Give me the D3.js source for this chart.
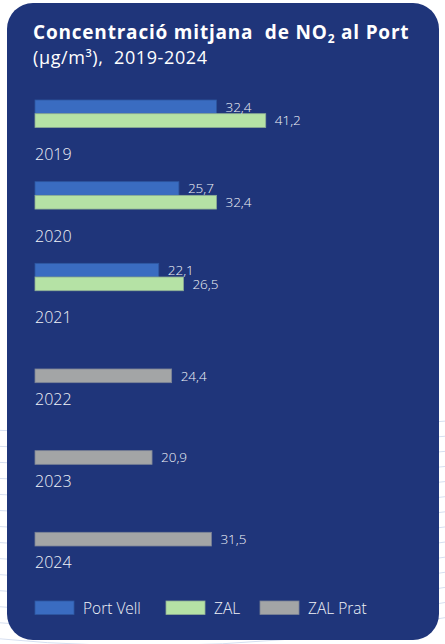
<!DOCTYPE html>
<html>
<head>
<meta charset="utf-8">
<script src="https://cdn.jsdelivr.net/npm/d3@7"></script>
<style>
  html, body { margin: 0; padding: 0; background: #ffffff; }
  svg { display: block; font-family: "Open Sans", sans-serif; }
</style>
</head>
<body>
<div id="chart"></div>
<script>
// data
const years = ["2019", "2020", "2021", "2022", "2023", "2024"];
const seriesNames = ["Port Vell", "ZAL", "ZAL Prat"];
const portVell = [32.4, 25.7, 22.1, null, null, null];
const zal = [41.2, 32.4, 26.5, null, null, null];
const zalPrat = [null, null, null, 24.4, 20.9, 31.5];

const colors = { "Port Vell": "#3a6cc1", "ZAL": "#b5e2a5", "ZAL Prat": "#a3a5a6" };
const strokes = { "Port Vell": "#2e57a0", "ZAL": "#8fae95", "ZAL Prat": "#7b8396" };
const textColor = "#f1f3f8";

const width = 445, height = 644;

// flatten into rows year / series / value
const rows = [];
years.forEach((y, i) => {
    [portVell, zal, zalPrat].forEach((arr, j) => {
        if (arr[i] != null) rows.push({ year: y, series: seriesNames[j], value: arr[i] });
    });
});

const svg = d3.select("#chart").append("svg")
    .attr("width", width)
    .attr("height", height);

// faint background lines outside the card
const bgLines = d3.range(0, 14);
svg.append("g").selectAll("path")
    .data(bgLines)
    .enter().append("path")
    .attr("d", d => `M -10 ${430 + d * 16} Q 220 ${440 + d * 17} 460 ${420 + d * 15}`)
    .attr("fill", "none")
    .attr("stroke", "#d6dff0")
    .attr("stroke-width", 1);

// the card
svg.append("rect")
    .attr("x", 7).attr("y", 3)
    .attr("width", 432).attr("height", 637)
    .attr("rx", 26).attr("ry", 26)
    .attr("fill", "#1f357a");

// title
const title = svg.append("text")
    .attr("x", 33).attr("y", 39)
    .attr("fill", "#ffffff")
    .attr("font-weight", 700)
    .attr("font-size", 19)
    .attr("letter-spacing", 0.8)
    .attr("xml:space", "preserve");
title.append("tspan").text("Concentració mitjana  de NO");
title.append("tspan").attr("font-size", 12).attr("dy", 4).text("2");
title.append("tspan").attr("dy", -4).text(" al Port");

svg.append("text")
    .attr("x", 33).attr("y", 64)
    .attr("fill", "#ffffff")
    .attr("font-size", 18)
    .attr("letter-spacing", 0.6)
    .attr("xml:space", "preserve")
    .text("(µg/m³),  2019-2024");

// scales
const x = d3.scaleLinear().domain([0, 45]).range([35, 35 + 252]);

// year label baselines
const yYear = d3.scalePoint().domain(years).range([160, 568.3]);

// inner band: two bars for 2019-2021, one for 2022-2024
const innerTwo = d3.scaleBand().domain(["Port Vell", "ZAL"]).range([-60, -32.6]).padding(0);
const innerOne = d3.scaleBand().domain(["ZAL Prat"]).range([-36, -22.3]).padding(0);
const inner = s => (s === "ZAL Prat" ? innerOne : innerTwo);

const fmt = v => d3.format(".1f")(v).replace(".", ",");

svg.append("g").selectAll("rect")
    .data(rows)
    .enter().append("rect")
    .attr("x", x(0))
    .attr("y", d => yYear(d.year) + inner(d.series)(d.series))
    .attr("width", d => x(d.value) - x(0))
    .attr("height", d => inner(d.series).bandwidth())
    .attr("fill", d => colors[d.series])
    .attr("stroke", d => strokes[d.series])
    .attr("stroke-width", 0.8);

// value labels
svg.append("g").selectAll("text")
    .data(rows)
    .enter().append("text")
    .attr("x", d => x(d.value) + 9)
    .attr("y", d => yYear(d.year) + inner(d.series)(d.series) + inner(d.series).bandwidth() - 2)
    .attr("fill", textColor)
    .attr("font-size", 13.5)
    .attr("font-weight", 300)
    .text(d => fmt(d.value));

// year labels
svg.append("g").selectAll("text")
    .data(years)
    .enter().append("text")
    .attr("x", 35)
    .attr("y", d => yYear(d))
    .attr("fill", textColor)
    .attr("font-size", 16)
    .attr("font-weight", 300)
    .text(d => d);

// legend
const legendX = [35, 166, 260];
const legend = svg.append("g").selectAll("g")
    .data(seriesNames)
    .enter().append("g")
    .attr("transform", (d, i) => `translate(${legendX[i]}, 601)`);

legend.append("rect")
    .attr("width", 39).attr("height", 13.5)
    .attr("fill", d => colors[d])
    .attr("stroke", d => strokes[d])
    .attr("stroke-width", 0.8);

legend.append("text")
    .attr("x", 48).attr("y", 12.5)
    .attr("fill", textColor)
    .attr("font-size", 15.5)
    .attr("font-weight", 300)
    .text(d => d);
</script>
</body>
</html>
